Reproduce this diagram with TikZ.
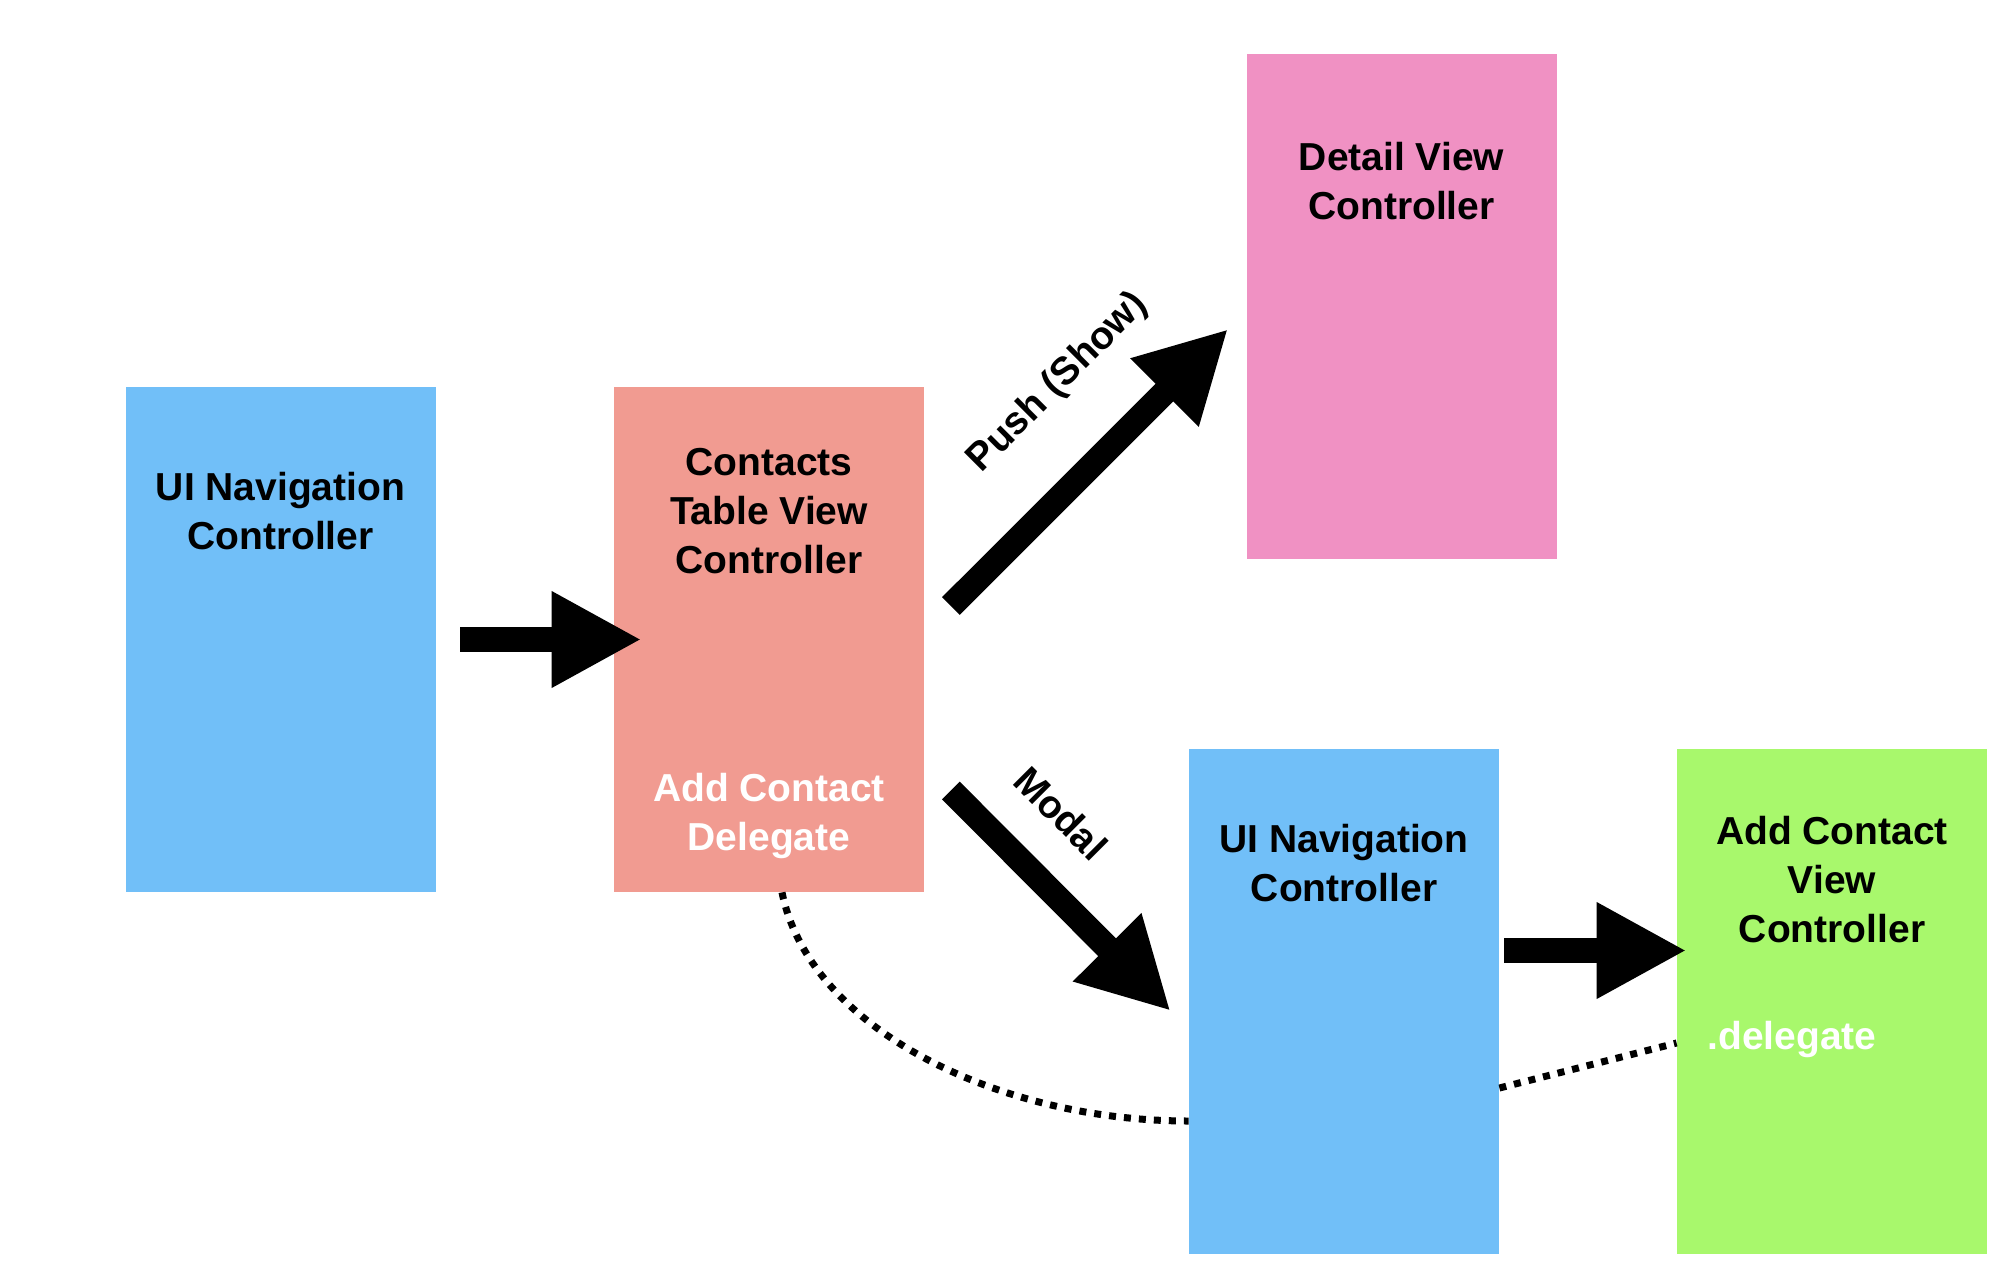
\documentclass[tikz,border=0pt]{standalone}
\usepackage{fontspec}
\setmainfont{Liberation Sans}
\usetikzlibrary{arrows.meta,calc}
\definecolor{navblue}{RGB}{113,191,248}
\definecolor{salmon}{RGB}{241,155,145}
\definecolor{pinkbox}{RGB}{240,145,195}
\definecolor{greenbox}{RGB}{168,248,108}
\begin{document}
\begin{tikzpicture}[x=0.5pt,y=-0.5pt,
  box/.style={rectangle, draw=none, minimum width=155pt, minimum height=252.5pt, inner sep=0pt},
  title/.style={font=\bfseries\fontsize{19.5}{24.5}\selectfont, align=center, inner sep=0pt},
  bigarrow/.style={line width=12.5pt, -{Triangle[length=45pt,width=45pt]}},
  dotline/.style={line width=3.5pt, dash pattern=on 3.5pt off 4pt}]
\fill[white] (0,0) rectangle (2014,1274);
\useasboundingbox (0,0) rectangle (2014,1274);

% boxes
\node[box, fill=navblue]  (nav1)     at (280.5,639.5) {};
\node[box, fill=salmon]   (contacts) at (769,639.5) {};
\node[box, fill=pinkbox]  (detail)   at (1401.5,306.5) {};
\node[box, fill=navblue]  (nav2)     at (1344,1001.5) {};
\node[box, fill=greenbox] (add)      at (1832,1001.5) {};

% texts
\node[title] (t1) at (280.5,511) {UI Navigation\\Controller};
\node[title] (t2) at (769,511.5) {Contacts\\Table View\\Controller};
\node[title, text=white] (t3) at (769,815.5) {Add Contact\\Delegate};
\node[title] (t4) at (1401.5,181) {Detail View\\Controller};
\node[title] (t5) at (1344,863) {UI Navigation\\Controller};
\node[title] (t6) at (1832,879.7) {Add Contact\\View\\Controller};
\node[title, text=white, anchor=west] (t7) at (1707,1039) {.delegate};

% arrow end points
\coordinate (a1s) at ($(nav1.east)+(24.5,0)$);
\coordinate (a1e) at ($(contacts.west)+(28,0)$);
\coordinate (a2s) at ($(contacts.east)+(26.5,-33.5)$);
\coordinate (a2e) at ($(detail.west)+(-18,22.5)$);
\coordinate (a3s) at ($(contacts.east)+(26.5,151)$);
\coordinate (a3e) at ($(nav2.west)+(-18,9.5)$);
\coordinate (a4s) at ($(nav2.east)+(5,-51)$);
\coordinate (a4e) at ($(add.west)+(10,-51)$);

\draw[bigarrow] (a1s) -- (a1e);
\draw[bigarrow] (a2s) -- (a2e);
\draw[bigarrow] (a3s) -- (a3e);
\draw[bigarrow] (a4s) -- (a4e);

\node[title, rotate=45] (lpush) at (1058,383) {Push (Show)};
\node[title, rotate=-45] (lmodal) at (1061,813) {Modal};

% dotted delegate links
\coordinate (d1s) at ($(contacts.south)+(13,0)$);
\coordinate (d1e) at ($(nav2.west)+(0,119.5)$);
\draw[dotline] (d1s) .. controls +(28,138) and +(-188,0) .. (d1e);
\coordinate (d2s) at ($(nav2.east)+(0,86.5)$);
\coordinate (d2e) at ($(add.west)+(0,41.5)$);
\draw[dotline] (d2s) -- (d2e);
\end{tikzpicture}
\end{document}
